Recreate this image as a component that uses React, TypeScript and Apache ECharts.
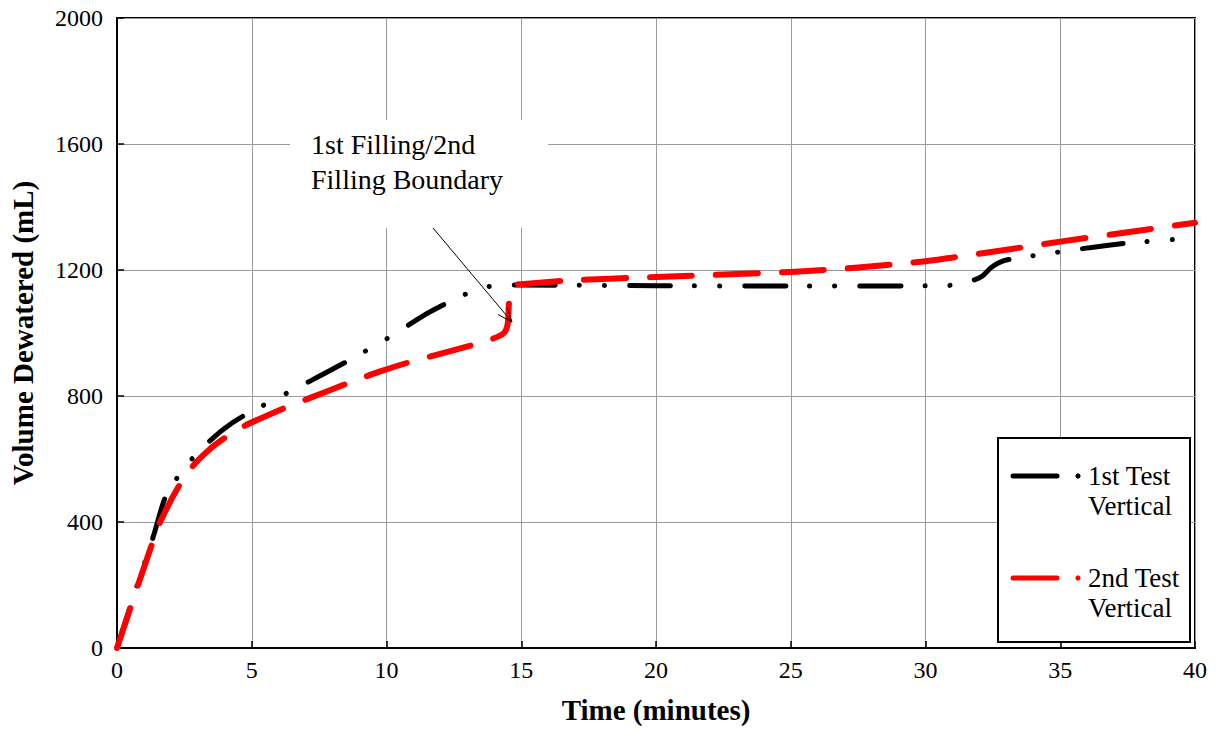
import React, { useEffect, useRef } from "react";
import * as echarts from "echarts";

const xTicks = [0, 5, 10, 15, 20, 25, 30, 35, 40];
const yTicks = [0, 400, 800, 1200, 1600, 2000];

const test1Time = [0, 0.75, 1.34, 1.78, 2.23, 2.78, 3.4, 4.0, 4.7, 7.0, 8.5, 10.0, 11.4, 12.1, 12.84, 13.7, 14.4, 15, 20, 25, 30.7, 31.3, 31.8, 32.1, 32.4, 32.7, 33.0, 34.7, 37.1, 40];
const test1Vol = [0, 200, 352, 476, 540, 600, 654, 698, 737, 840, 908, 981, 1057, 1089, 1120, 1146, 1152, 1152, 1150, 1149, 1150, 1156, 1168, 1180, 1205, 1222, 1232, 1254, 1282, 1302];

const test2Time = [0, 0.78, 1.34, 1.6, 2.27, 2.82, 3.4, 4.0, 4.75, 6.16, 7.05, 8.46, 9.76, 10.76, 11.6, 13.2, 13.95, 14.36, 14.5, 14.55, 14.7, 15, 17, 20, 25, 27.5, 30, 32.5, 35, 37.5, 40];
const test2Vol = [0, 200, 340, 400, 510, 578, 628, 667, 706, 760, 790, 837, 878, 905, 925, 962, 982, 1000, 1030, 1098, 1150, 1155, 1168, 1178, 1194, 1208, 1228, 1258, 1290, 1320, 1350];

const seriesNames = ["1st Test\nVertical", "2nd Test\nVertical"];
const annotationText = "1st Filling/2nd\nFilling Boundary";
const xTitle = "Time (minutes)";
const yTitle = "Volume Dewatered (mL)";

const FONT = "'Liberation Serif', 'Times New Roman', serif";

export default function App() {
  const ref = useRef<HTMLDivElement>(null);
  useEffect(() => {
    if (!ref.current) return;
    const chart = echarts.init(ref.current, undefined, { renderer: "svg" });
    const d1 = test1Time.map((t, i) => [t, test1Vol[i]]);
    const d2 = test2Time.map((t, i) => [t, test2Vol[i]]);

    const ax0 = 433, ay0 = 228, ax1 = 512, ay1 = 322;

    chart.setOption({
      animation: false,
      backgroundColor: "#ffffff",
      grid: {
        left: 117,
        right: 33,
        top: 18,
        bottom: 84,
        show: true,
        borderColor: "#000",
        borderWidth: 2,
        backgroundColor: "transparent",
      },
      xAxis: {
        type: "value",
        min: 0,
        max: 40,
        interval: 5,
        name: xTitle,
        nameLocation: "middle",
        nameGap: 47,
        nameTextStyle: { fontFamily: FONT, fontSize: 29, fontWeight: "bold", color: "#000" },
        axisLine: { show: true, lineStyle: { color: "#000", width: 2 } },
        axisTick: { show: true, inside: true, length: 7, lineStyle: { color: "#000", width: 1.5 } },
        axisLabel: {
          fontFamily: FONT,
          fontSize: 24,
          color: "#000",
          margin: 10,
          formatter: (v: number) => (xTicks.includes(v) ? String(v) : ""),
        },
        splitLine: { show: true, lineStyle: { color: "#9a9a9a", width: 1 } },
      },
      yAxis: {
        type: "value",
        min: 0,
        max: 2000,
        interval: 400,
        name: yTitle,
        nameLocation: "middle",
        nameGap: 80,
        nameTextStyle: { fontFamily: FONT, fontSize: 29, fontWeight: "bold", color: "#000" },
        axisLine: { show: true, lineStyle: { color: "#000", width: 2 } },
        axisTick: { show: true, inside: true, length: 7, lineStyle: { color: "#000", width: 1.5 } },
        axisLabel: {
          fontFamily: FONT,
          fontSize: 24,
          color: "#000",
          margin: 14,
          formatter: (v: number) => (yTicks.includes(v) ? String(v) : ""),
        },
        splitLine: { show: true, lineStyle: { color: "#9a9a9a", width: 1 } },
      },
      series: [
        {
          name: seriesNames[0],
          type: "line",
          data: d1,
          showSymbol: false,
          smooth: 0.25,
          z: 3,
          lineStyle: { color: "#000", width: 5, type: [41, 24, 0.1, 25, 0.1, 25], cap: "round", join: "round" },
        },
        {
          name: seriesNames[1],
          type: "line",
          data: d2,
          showSymbol: false,
          smooth: 0.25,
          z: 4,
          lineStyle: { color: "#ff0000", width: 6, type: [42, 24], cap: "round", join: "round" },
        },
      ],
      graphic: [
        { type: "rect", z: 100, shape: { x: 290, y: 120, width: 258, height: 108 }, style: { fill: "#fff" } },
        {
          type: "text",
          z: 101,
          x: 311,
          y: 127,
          style: { text: annotationText, font: `28px ${FONT}`, fill: "#000", lineHeight: 35, textVerticalAlign: "top" },
        },
        { type: "line", z: 101, shape: { x1: ax0, y1: ay0, x2: ax1, y2: ay1 }, style: { stroke: "#000", lineWidth: 1 } },
        {
          type: "polyline",
          z: 101,
          shape: { points: [[507, 307], [ax1, ay1], [498, 314.5]] },
          style: { stroke: "#000", lineWidth: 1, fill: "none" },
        },
        { type: "rect", z: 100, shape: { x: 998, y: 438, width: 192, height: 204 }, style: { fill: "#fff", stroke: "#000", lineWidth: 2 } },
        { type: "line", z: 101, shape: { x1: 1013, y1: 476, x2: 1057, y2: 476 }, style: { stroke: "#000", lineWidth: 5, lineCap: "round" } },
        { type: "circle", z: 101, shape: { cx: 1078, cy: 476, r: 2.6 }, style: { fill: "#000" } },
        {
          type: "text",
          z: 101,
          x: 1088,
          y: 461,
          style: { text: seriesNames[0], font: `27px ${FONT}`, fill: "#000", lineHeight: 30, textVerticalAlign: "top" },
        },
        { type: "line", z: 101, shape: { x1: 1013, y1: 578, x2: 1057, y2: 578 }, style: { stroke: "#ff0000", lineWidth: 5, lineCap: "round" } },
        { type: "circle", z: 101, shape: { cx: 1078, cy: 578, r: 2.6 }, style: { fill: "#ff0000" } },
        {
          type: "text",
          z: 101,
          x: 1088,
          y: 563,
          style: { text: seriesNames[1], font: `27px ${FONT}`, fill: "#000", lineHeight: 30, textVerticalAlign: "top" },
        },
      ],
    });
    return () => chart.dispose();
  }, []);

  return <div ref={ref} style={{ position: "absolute", left: 0, top: 0, width: 1228, height: 732 }} />;
}
